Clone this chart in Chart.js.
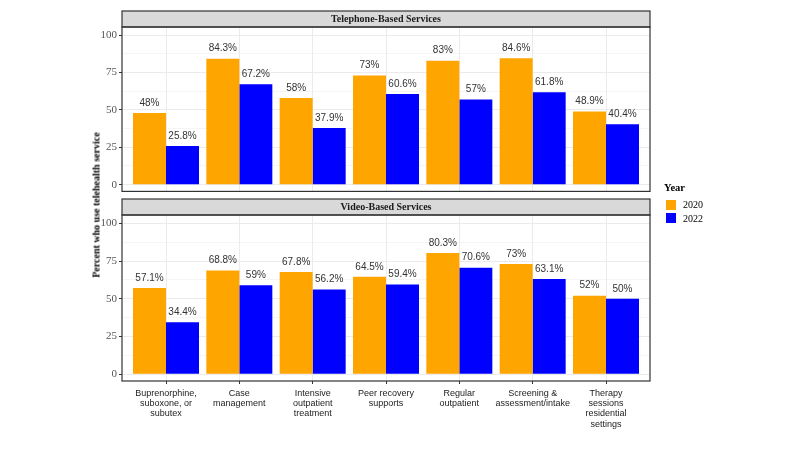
<!DOCTYPE html>
<html>
<head>
<meta charset="utf-8">
<script src="https://cdn.jsdelivr.net/npm/chart.js@4"></script>
<style>
  html, body { margin:0; padding:0; background:#fff; }
  #wrap { position:relative; width:800px; height:450px; overflow:hidden; }
  canvas { position:absolute; left:0; }
  #c1 { top:0; }
  #c2 { top:190px; }
  .ytitle { position:absolute; left:96px; top:205px; transform:translate(-50%,-50%) rotate(-90deg);
            font:bold 10px "Liberation Serif", serif; color:#000; white-space:nowrap; }
  .legend { position:absolute; left:664px; top:182px; font:10px "Liberation Serif", serif; color:#000; }
  .legend .ttl { font-weight:bold; font-size:10.5px; margin-bottom:5px; }
  .legend .row { display:flex; align-items:center; height:13.5px; }
  .legend .sw { width:10px; height:10px; margin:0 7px 0 2px; }
</style>
</head>
<body>
<div id="wrap">
  <canvas id="c1" width="800" height="200"></canvas>
  <canvas id="c2" width="800" height="260"></canvas>
  <div class="ytitle">Percent who use telehealth service</div>
  <div class="legend" id="legend"></div>
</div>
<script>
/* ---- data ---- */
const categories = ['Buprenorphine, suboxone, or subutex','Case management','Intensive outpatient treatment',
                    'Peer recovery supports','Regular outpatient','Screening & assessment/intake',
                    'Therapy sessions residential settings'];
const catLabels  = [['Buprenorphine,','suboxone, or','subutex'],['Case','management'],
                    ['Intensive','outpatient','treatment'],['Peer recovery','supports'],
                    ['Regular','outpatient'],['Screening &','assessment/intake'],
                    ['Therapy','sessions','residential','settings']];
const years      = ['2020','2022'];
const phone2020  = [48, 84.3, 58, 73, 83, 84.6, 48.9];
const phone2022  = [25.8, 67.2, 37.9, 60.6, 57, 61.8, 40.4];
const video2020  = [57.1, 68.8, 67.8, 64.5, 80.3, 73, 52];
const video2022  = [34.4, 59, 56.2, 59.4, 70.6, 63.1, 50];
const yTicks     = [0, 12.5, 25, 37.5, 50, 62.5, 75, 87.5, 100];
const yMajor     = [0, 25, 50, 75, 100];

const COLORS = ['#FFA500', '#0000FF'];

/* ---- plugins: strip header, panel border, bar labels ---- */
const panelPlugin = {
  id: 'panel',
  afterDraw(chart, args, opts) {
    const {ctx, chartArea:a} = chart;
    ctx.save();
    // strip
    const sh = opts.stripH;
    ctx.fillStyle = '#d9d9d9';
    ctx.fillRect(a.left, a.top - sh, a.right - a.left, sh);
    ctx.strokeStyle = '#333';
    ctx.lineWidth = 1.2;
    ctx.strokeRect(a.left, a.top - sh, a.right - a.left, sh);
    ctx.fillStyle = '#1a1a1a';
    ctx.font = 'bold 10px "Liberation Serif", serif';
    ctx.textAlign = 'center';
    ctx.textBaseline = 'middle';
    ctx.fillText(opts.title, (a.left + a.right) / 2, a.top - sh / 2 + 0.5);
    // border
    ctx.strokeRect(a.left, a.top, a.right - a.left, a.bottom - a.top);
    ctx.restore();
  }
};
const labelPlugin = {
  id: 'barLabels',
  afterDatasetsDraw(chart) {
    const {ctx} = chart;
    ctx.save();
    ctx.font = '10px "Liberation Sans", Arial, sans-serif';
    ctx.fillStyle = '#333';
    ctx.textAlign = 'center';
    ctx.textBaseline = 'middle';
    chart.data.datasets.forEach((ds, di) => {
      chart.getDatasetMeta(di).data.forEach((bar, i) => {
        ctx.fillText(ds.data[i].y + '%', bar.x, bar.y - 10);
      });
    });
    ctx.restore();
  }
};

function makePanel(id, title, s2020, s2022, showX, padTop, xHeight) {
  const toXY = arr => arr.map((v, i) => ({x: i + 1, y: v}));
  return new Chart(document.getElementById(id), {
    type: 'bar',
    data: {
      datasets: [
        {label: years[0], data: toXY(s2020), backgroundColor: COLORS[0], borderWidth: 0},
        {label: years[1], data: toXY(s2022), backgroundColor: COLORS[1], borderWidth: 0}
      ]
    },
    options: {
      responsive: false, animation: false,
      layout: {padding: {top: padTop, right: 150, bottom: 7, left: 0}},
      plugins: {legend: {display: false}, tooltip: {enabled: false},
                panel: {title: title, stripH: 16}},
      datasets: {bar: {barPercentage: 1, categoryPercentage: 0.9}},
      scales: {
        x: {
          type: 'linear', min: 0.4, max: 7.6, offset: false,
          afterBuildTicks: s => { s.ticks = categories.map((c, i) => ({value: i + 1})); },
          afterFit: s => { s.height = xHeight; },
          border: {display: false},
          grid: {offset: false, color: '#ebebeb', lineWidth: 1, drawTicks: showX,
                 tickLength: 3, tickColor: '#333'},
          ticks: {display: showX, autoSkip: false, maxRotation: 0, padding: 4,
                  color: '#222', font: {family: '"Liberation Sans", Arial, sans-serif', size: 9, lineHeight: 1.15},
                  callback: v => catLabels[v - 1] || ''}
        },
        y: {
          min: -4.5, max: 105.5,
          afterBuildTicks: s => { s.ticks = yTicks.map(v => ({value: v})); },
          afterFit: s => { s.width = 122; },
          border: {display: false},
          grid: {color: '#ebebeb',
                 lineWidth: c => (c.tick && yMajor.includes(c.tick.value)) ? 1 : 0.5,
                 tickLength: 3,
                 tickColor: c => (c.tick && yMajor.includes(c.tick.value)) ? '#333' : 'rgba(0,0,0,0)'},
          ticks: {padding: 2, color: '#555',
                  font: {family: '"Liberation Serif", serif', size: 11},
                  callback: v => yMajor.includes(v) ? String(v) : ''}
        }
      }
    },
    plugins: [panelPlugin, labelPlugin]
  });
}

makePanel('c1', 'Telephone-Based Services', phone2020, phone2022, false, 27, 0);
makePanel('c2', 'Video-Based Services', video2020, video2022, true, 25, 62);

/* ---- legend ---- */
const lg = document.getElementById('legend');
lg.innerHTML = '<div class="ttl">Year</div>' +
  years.map((y, i) => `<div class="row"><div class="sw" style="background:${COLORS[i]}"></div>${y}</div>`).join('');
</script>
</body>
</html>
